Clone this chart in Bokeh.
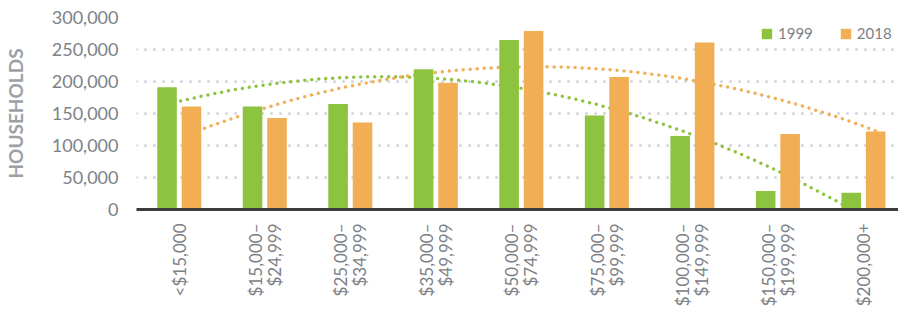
import math
import numpy as np
from bokeh.plotting import figure
from bokeh.models import (ColumnDataSource, FixedTicker, NumeralTickFormatter,
                          Range1d, Legend, LegendItem)
from bokeh.transform import dodge
from bokeh.embed import file_html
from bokeh.resources import INLINE

categories = ["<$15,000", "$15,000\u2013\n$24,999", "$25,000\u2013\n$34,999",
              "$35,000\u2013\n$49,999", "$50,000\u2013\n$74,999", "$75,000\u2013\n$99,999",
              "$100,000\u2013\n$149,999", "$150,000\u2013\n$199,999", "$200,000+"]
households_1999 = [191000, 161000, 165000, 219000, 265000, 147000, 115000, 29000, 26000]
households_2018 = [161000, 143000, 136000, 198000, 279000, 207000, 261000, 118000, 122000]
y_ticks = [0, 50000, 100000, 150000, 200000, 250000, 300000]

GREEN = "#8cc43f"
ORANGE = "#f2ae55"
GRAY = "#7d8186"

xs = list(range(1, len(categories) + 1))
src = ColumnDataSource(dict(x=xs, a=households_1999, b=households_2018))

p = figure(width=898, height=309, output_backend="svg", toolbar_location=None,
           x_range=Range1d(0.5, 9.41), y_range=Range1d(0, 300000),
           min_border_left=122, min_border_right=0, min_border_top=17,
           min_border_bottom=100)
p.outline_line_color = None

OFF = 0.143
W = 0.229

# quadratic trendlines (as in the original spreadsheet chart)
xf = np.linspace(1, 9, 200)
for vals, col, off in ((households_1999, GREEN, -OFF), (households_2018, ORANGE, OFF)):
    coef = np.polyfit(xs, vals, 2)
    p.line(xf + off, np.polyval(coef, xf), line_color=col, line_width=3.5,
           line_dash="0 7", line_cap="round")

r1 = p.vbar(x=dodge("x", -OFF), top="a", width=W, source=src, fill_color=GREEN,
            line_color=None)
r2 = p.vbar(x=dodge("x", OFF), top="b", width=W, source=src, fill_color=ORANGE,
            line_color=None)

legend = Legend(items=[LegendItem(label="1999", renderers=[r1]),
                       LegendItem(label="2018", renderers=[r2])],
                orientation="horizontal", location=(624, 167),
                glyph_width=13, glyph_height=13, label_standoff=5, spacing=26,
                padding=0, margin=0, border_line_color=None,
                background_fill_alpha=0, label_text_font="Lato",
                label_text_font_size="15px", label_text_color=GRAY)
p.add_layout(legend)

# grid
p.xgrid.grid_line_color = None
p.ygrid.ticker = FixedTicker(ticks=y_ticks)
p.ygrid.grid_line_color = "#d2d5da"
p.ygrid.grid_line_width = 3
p.ygrid.grid_line_dash = "0 9"
p.ygrid.grid_line_cap = "round"

# y axis
p.yaxis.ticker = FixedTicker(ticks=y_ticks)
p.yaxis.formatter = NumeralTickFormatter(format="0,0")
p.yaxis.axis_line_color = None
p.yaxis.major_tick_line_color = None
p.yaxis.minor_tick_line_color = None
p.yaxis.major_label_standoff = 12
p.yaxis.major_label_text_font = "Lato"
p.yaxis.major_label_text_font_size = "18px"
p.yaxis.major_label_text_color = GRAY
p.yaxis.axis_label = "HOUSEHOLDS"
p.yaxis.axis_label_text_font = "Lato"
p.yaxis.axis_label_text_font_style = "bold"
p.yaxis.axis_label_text_font_size = "19px"
p.yaxis.axis_label_text_color = "#9da1a6"
p.yaxis.axis_label_standoff = 22

# x axis
p.xaxis.ticker = FixedTicker(ticks=xs)
p.xaxis.major_label_overrides = {x: c for x, c in zip(xs, categories)}
p.xaxis.major_label_orientation = math.pi / 2
p.xaxis.axis_line_color = "#3c3c3c"
p.xaxis.axis_line_width = 3
p.xaxis.major_tick_line_color = None
p.xaxis.minor_tick_line_color = None
p.xaxis.major_label_standoff = 8
p.xaxis.major_label_text_font = "Lato"
p.xaxis.major_label_text_font_size = "17px"
p.xaxis.major_label_text_line_height = 0.9
p.xaxis.major_label_text_color = GRAY

open("out.html", "w").write(file_html(p, INLINE))
